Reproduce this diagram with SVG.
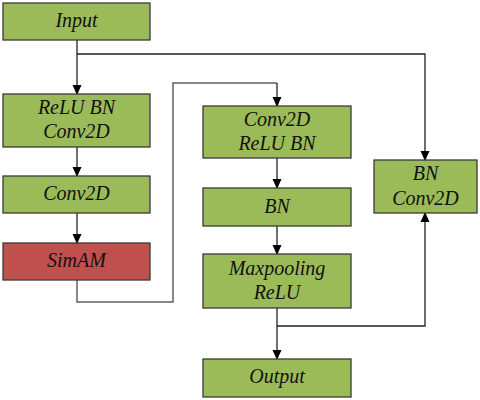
<svg xmlns="http://www.w3.org/2000/svg" width="480" height="400" viewBox="0 0 480 400">
<defs>
<style>
.box{fill:#9bbb59;stroke:#3a3a3a;stroke-width:1.3}
.red{fill:#c0504d;stroke:#3a3a3a;stroke-width:1.3}
text{font-family:"Liberation Serif","Times New Roman",serif;font-style:italic;font-size:20px;fill:#111;text-anchor:middle}
.ln{fill:none;stroke:#222;stroke-width:1.3}
.gl{fill:none;stroke:#606060;stroke-width:1.5}
</style>
<marker id="ah" markerWidth="10" markerHeight="10" refX="9" refY="5" orient="auto" markerUnits="userSpaceOnUse">
<path d="M0,0.5 L10,5 L0,9.5 Z" fill="#000"/>
</marker>
</defs>
<rect width="480" height="400" fill="#fff"/>
<g id="connectors">
<line class="ln" x1="77" y1="40" x2="77" y2="94" marker-end="url(#ah)"/>
<polyline class="ln" points="77,54 425,54 425,160" marker-end="url(#ah)"/>
<line class="ln" x1="77" y1="147" x2="77" y2="176" marker-end="url(#ah)"/>
<line class="ln" x1="77" y1="213" x2="77" y2="243" marker-end="url(#ah)"/>
<polyline class="gl" points="77,280 77,302 173,302 173,83 277,83"/>
<line class="ln" x1="277" y1="83" x2="277" y2="106" marker-end="url(#ah)"/>
<line class="ln" x1="277" y1="158" x2="277" y2="188" marker-end="url(#ah)"/>
<line class="ln" x1="277" y1="226" x2="277" y2="254" marker-end="url(#ah)"/>
<line class="ln" x1="277" y1="308" x2="277" y2="359" marker-end="url(#ah)"/>
<polyline class="ln" points="277,326 425,326 425,213" marker-end="url(#ah)"/>
</g>
<g id="input"><rect class="box" x="3" y="3" width="147" height="37"/><text x="76.5" y="27">Input</text></g>
<g id="relu-bn-conv2d"><rect class="box" x="3" y="94" width="147" height="53"/><text x="76.5" y="114">ReLU BN</text><text x="76.5" y="138">Conv2D</text></g>
<g id="conv2d"><rect class="box" x="3" y="176" width="147" height="37"/><text x="76.5" y="200">Conv2D</text></g>
<g id="simam"><rect class="red" x="3" y="243" width="147" height="37"/><text x="76.5" y="267">SimAM</text></g>
<g id="conv2d-relu-bn"><rect class="box" x="203" y="106" width="148" height="52"/><text x="277" y="126">Conv2D</text><text x="277" y="150">ReLU BN</text></g>
<g id="bn"><rect class="box" x="203" y="188" width="148" height="38"/><text x="277" y="213">BN</text></g>
<g id="maxpool-relu"><rect class="box" x="203" y="254" width="148" height="54"/><text x="277" y="275">Maxpooling</text><text x="277" y="299">ReLU</text></g>
<g id="output"><rect class="box" x="203" y="359" width="148" height="38"/><text x="277" y="383">Output</text></g>
<g id="bn-conv2d"><rect class="box" x="374" y="160" width="103" height="53"/><text x="425.5" y="180">BN</text><text x="425.5" y="205">Conv2D</text></g>
</svg>
